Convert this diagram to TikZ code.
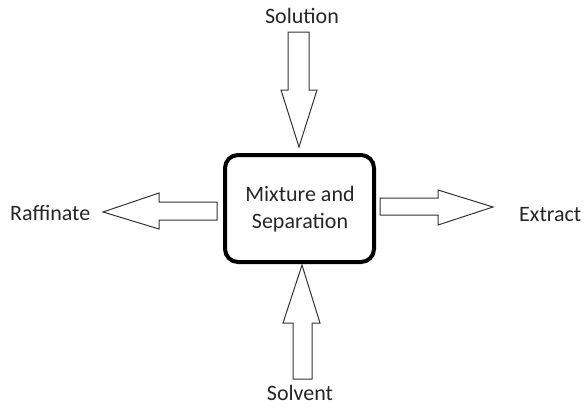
\documentclass[tikz,border=0pt]{standalone}
\usepackage{fontspec}
\setmainfont{Carlito}
\begin{document}
\begin{tikzpicture}[x=1pt,y=-1pt,
  lbl/.style={font=\fontsize{22}{27}\selectfont, inner sep=0pt, text=black!85},
  blockarrow/.style={draw=black!80, line width=1pt, fill=white, line join=miter},
  mainbox/.style={draw=black, line width=4pt, rounded corners=13pt}]
\useasboundingbox (0,0) rectangle (585,410);
% central box
\draw[mainbox] (225,155) rectangle (374,262);
\node[lbl, align=center] (box) at (300,209) {Mixture and\\Separation};
% labels
\node[lbl] (solution) at (302,16) {Solution};
\node[lbl] (solvent) at (300,393) {Solvent};
\node[lbl, anchor=west] (raff) at (10,213) {Raffinate};
\node[lbl, anchor=west] (extract) at (519,215) {Extract};
% block arrows
\draw[blockarrow] (288,32) -- (309,32) -- (309,90) -- (317,90) -- (299,147) -- (281,90) -- (288,90) -- cycle;
\draw[blockarrow] (293,379) -- (312,379) -- (312,323) -- (320,323) -- (302,265) -- (283,323) -- (293,323) -- cycle;
\draw[blockarrow] (217,202) -- (217,220) -- (159,220) -- (159,229) -- (103,212) -- (159,193) -- (159,202) -- cycle;
\draw[blockarrow] (380,198) -- (380,215) -- (438,215) -- (438,225) -- (493,207) -- (438,190) -- (438,198) -- cycle;
\end{tikzpicture}
\end{document}
